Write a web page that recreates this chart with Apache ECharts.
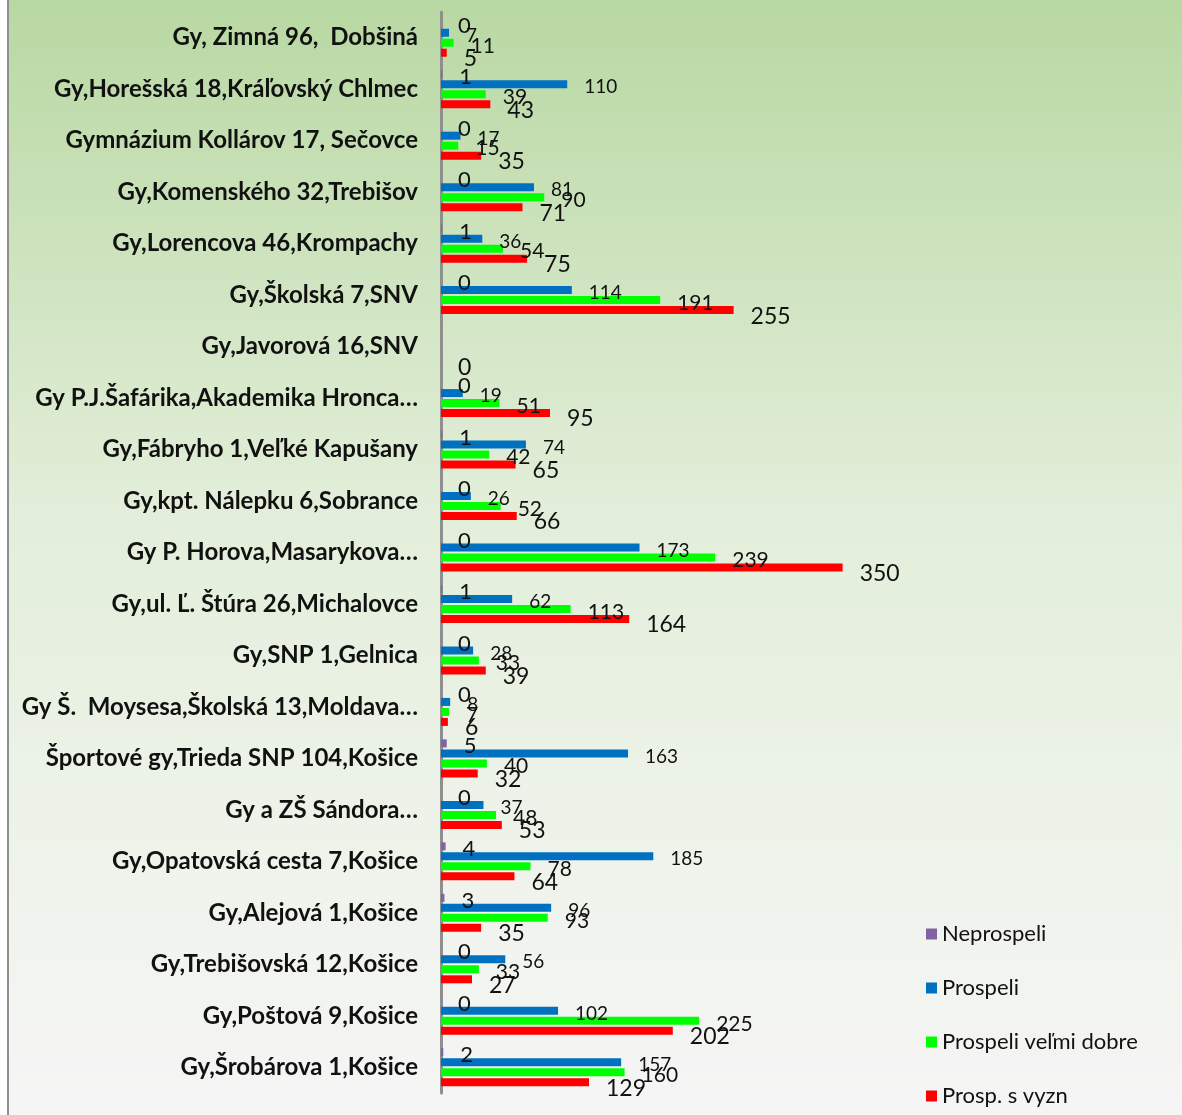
<!DOCTYPE html>
<html>
<head>
<meta charset="utf-8">
<script src="https://cdn.jsdelivr.net/npm/echarts@6/dist/echarts.min.js"></script>
<style>
html,body{margin:0;padding:0;background:#fff;}
#main{width:1182px;height:1115px;}
</style>
</head>
<body>
<div id="main"></div>
<script>
// skoly zhora nadol
var skoly = ['Gy, Zimná 96,  Dobšiná', 'Gy,Horešská 18,Kráľovský Chlmec', 'Gymnázium Kollárov 17, Sečovce',
	'Gy,Komenského 32,Trebišov', 'Gy,Lorencova 46,Krompachy', 'Gy,Školská 7,SNV', 'Gy,Javorová 16,SNV',
	'Gy P.J.Šafárika,Akademika Hronca…', 'Gy,Fábryho 1,Veľké Kapušany', 'Gy,kpt. Nálepku 6,Sobrance',
	'Gy P. Horova,Masarykova…', 'Gy,ul. Ľ. Štúra 26,Michalovce', 'Gy,SNP 1,Gelnica',
	'Gy Š.  Moysesa,Školská 13,Moldava…', 'Športové gy,Trieda SNP 104,Košice', 'Gy a ZŠ Sándora…',
	'Gy,Opatovská cesta 7,Košice', 'Gy,Alejová 1,Košice', 'Gy,Trebišovská 12,Košice',
	'Gy,Poštová 9,Košice', 'Gy,Šrobárova 1,Košice'];
var neprospeli = [0, 1, 0, 0, 1, 0, null, 0, 1, 0, 0, 1, 0, 0, 5, 0, 4, 3, 0, 0, 2];
var prospeli = [7, 110, 17, 81, 36, 114, null, 19, 74, 26, 173, 62, 28, 8, 163, 37, 185, 96, 56, 102, 157];
var velmiDobre = [11, 39, 15, 90, 54, 191, null, 51, 42, 52, 239, 113, 33, 7, 40, 48, 78, 93, 33, 225, 160];
var sVyzn = [5, 43, 35, 71, 75, 255, 0, 95, 65, 66, 350, 164, 39, 6, 32, 53, 64, 35, 27, 202, 129];

var nazvy = ['Neprospeli', 'Prospeli', 'Prospeli veľmi dobre', 'Prosp. s vyzn'];
var farby = ['#8064a2', '#0070c0', '#00ff00', '#ff0000'];
var velkosti = [22, 19, 21, 23];
var posuny = [3, 3, 3, 6];

var chart = echarts.init(document.getElementById('main'));

var series = [];
[neprospeli, prospeli, velmiDobre, sVyzn].forEach(function(d, i) {
	series.push({
		name: nazvy[i],
		type: 'bar',
		data: d,
		barWidth: 8,
		barGap: '25%',
		itemStyle: {color: farby[i]},
		label: {
			show: true,
			position: 'right',
			distance: 17,
			offset: [0, posuny[i]],
			fontFamily: 'Lato',
			fontSize: velkosti[i],
			color: '#111'
		}
	});
});

var option = {
	backgroundColor: '#fff',
	animation: false,
	graphic: [{
		type: 'rect',
		z: -10,
		silent: true,
		shape: {x: 9, y: 0, width: 1173, height: 1115},
		style: {
			fill: new echarts.graphic.LinearGradient(0, 0, 0, 1, [
				{offset: 0, color: '#b8d8a2'},
				{offset: 0.45, color: '#e2eed9'},
				{offset: 0.75, color: '#eef3ea'},
				{offset: 1, color: '#f5f5f5'}
			])
		}
	}, {
		type: 'line',
		z: -5,
		silent: true,
		shape: {x1: 8, y1: 0, x2: 8, y2: 1115},
		style: {stroke: '#8f8f8f', lineWidth: 2}
	}],
	legend: {
		orient: 'vertical',
		left: 926,
		top: 923,
		padding: 0,
		itemWidth: 11,
		itemHeight: 11,
		itemGap: 32,
		icon: 'rect',
		data: nazvy,
		textStyle: {fontFamily: 'Lato', fontSize: 22, lineHeight: 22, color: '#111'}
	},
	grid: {left: 441, right: 282, top: 12, bottom: 22, containLabel: false},
	xAxis: {type: 'value', min: 0, max: 400, show: false},
	yAxis: {
		type: 'category',
		inverse: true,
		data: skoly,
		axisLine: {lineStyle: {color: '#8f8f8f', width: 3}},
		axisTick: {show: false},
		axisLabel: {
			margin: 23,
			fontFamily: 'Lato',
			fontWeight: 'bold',
			fontSize: 24,
			color: '#111'
		}
	},
	series: series
};
chart.setOption(option);
</script>
</body>
</html>
